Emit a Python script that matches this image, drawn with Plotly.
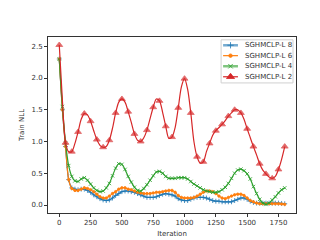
import plotly.graph_objects as go

iterations = list(range(0, 1801, 25))

nll_l8 = [2.30, 1.50, 0.92, 0.40, 0.27, 0.25, 0.24, 0.25, 0.25, 0.23, 0.20, 0.16, 0.13,
          0.10, 0.08, 0.07, 0.08, 0.11, 0.15, 0.18, 0.21, 0.22, 0.22, 0.21, 0.20, 0.18,
          0.16, 0.14, 0.12, 0.12, 0.12, 0.13, 0.15, 0.17, 0.18, 0.17, 0.16, 0.14, 0.10,
          0.08, 0.07, 0.07, 0.09, 0.11, 0.12, 0.12, 0.12, 0.11, 0.09, 0.07, 0.06, 0.06,
          0.05, 0.05, 0.05, 0.05, 0.07, 0.09, 0.11, 0.11, 0.09, 0.06, 0.04, 0.03, 0.03,
          0.03, 0.03, 0.03, 0.03, 0.03, 0.03, 0.025, 0.02]
nll_l6 = [2.30, 1.50, 0.92, 0.40, 0.26, 0.23, 0.23, 0.25, 0.27, 0.26, 0.24, 0.21, 0.17,
          0.13, 0.11, 0.11, 0.14, 0.18, 0.21, 0.25, 0.27, 0.27, 0.25, 0.24, 0.22, 0.20,
          0.19, 0.18, 0.18, 0.18, 0.19, 0.20, 0.20, 0.21, 0.22, 0.23, 0.23, 0.20, 0.15,
          0.12, 0.11, 0.11, 0.11, 0.12, 0.14, 0.17, 0.20, 0.22, 0.22, 0.21, 0.18, 0.14,
          0.11, 0.10, 0.12, 0.14, 0.16, 0.17, 0.17, 0.15, 0.11, 0.07, 0.05, 0.03, 0.02,
          0.02, 0.02, 0.02, 0.02, 0.02, 0.02, 0.015, 0.01]
nll_l4 = [2.30, 1.55, 0.98, 0.62, 0.45, 0.38, 0.37, 0.41, 0.43, 0.39, 0.33, 0.27, 0.23,
          0.21, 0.22, 0.27, 0.34, 0.46, 0.58, 0.65, 0.64, 0.56, 0.45, 0.36, 0.28, 0.23,
          0.22, 0.26, 0.32, 0.39, 0.46, 0.52, 0.53, 0.50, 0.45, 0.42, 0.42, 0.42, 0.43,
          0.43, 0.43, 0.41, 0.37, 0.33, 0.30, 0.27, 0.24, 0.22, 0.21, 0.20, 0.20, 0.21,
          0.24, 0.28, 0.34, 0.42, 0.50, 0.55, 0.565, 0.54, 0.49, 0.41, 0.29, 0.18, 0.09,
          0.03, 0.01, 0.03, 0.08, 0.13, 0.19, 0.24, 0.27]
nll_l2 = [2.52, 1.65, 0.98, 0.84, 0.84, 0.97, 1.15, 1.35, 1.44, 1.42, 1.32, 1.17, 1.03,
          0.94, 0.91, 0.92, 1.02, 1.21, 1.45, 1.62, 1.67, 1.62, 1.47, 1.30, 1.12, 1.02,
          1.00, 1.06, 1.18, 1.36, 1.54, 1.67, 1.64, 1.46, 1.24, 1.05, 1.07, 1.22, 1.53,
          1.86, 1.99, 1.82, 1.45, 1.00, 0.76, 0.66, 0.68, 0.84, 0.97, 1.10, 1.17, 1.22,
          1.27, 1.33, 1.40, 1.45, 1.50, 1.50, 1.45, 1.35, 1.20, 1.06, 0.92, 0.79, 0.65,
          0.55, 0.49, 0.44, 0.42, 0.45, 0.56, 0.72, 0.92]

labels = ["SGHMCLP-L 8", "SGHMCLP-L 6", "SGHMCLP-L 4", "SGHMCLP-L 2"]
colors = ["#1f77b4", "#ff7f0e", "#2ca02c", "#d62728"]
symbols = ["cross-thin-open", "circle", "x-thin-open", "triangle-up"]
msizes = [3.5, 2.5, 3.5, 6]
values = [nll_l8, nll_l6, nll_l4, nll_l2]

fig = go.Figure()

# manual legend frame (below traces)
leg_x0, leg_x1, leg_y0, leg_y1 = 0.698, 0.988, 0.739, 0.984
row_y = [0.953, 0.894, 0.834, 0.774]
key_x0, key_x1, text_x = 0.706, 0.766, 0.787
fig.add_shape(type="rect", xref="paper", yref="paper", x0=leg_x0, x1=leg_x1, y0=leg_y0, y1=leg_y1,
              line=dict(color="#d0d0d0", width=1), fillcolor="rgba(255,255,255,0.8)", layer="below")

for i, (name, vals, color, sym, size) in enumerate(zip(labels, values, colors, symbols, msizes)):
    if name.endswith("2"):
        sizes = [size if k % 2 == 0 else 0 for k in range(len(vals))]
    else:
        sizes = size
    fig.add_trace(go.Scatter(
        x=iterations, y=vals, name=name, mode="lines+markers", showlegend=False,
        line=dict(color=color, width=1.2, shape="spline", smoothing=0.8),
        marker=dict(symbol=sym, size=sizes, color=color, line=dict(color=color, width=0.8)),
    ))

for i, (name, color, sym, size) in enumerate(zip(labels, colors, symbols, msizes)):
    wide = i in (0, 2)
    fig.add_trace(go.Scatter(
        x=[key_x0, key_x1], y=[row_y[i], row_y[i]], xaxis="x2", yaxis="y2", mode="lines",
        showlegend=False, hoverinfo="skip", opacity=0.6 if wide else 1.0,
        line=dict(color=color, width=2.5 if wide else 1.2),
    ))
    fig.add_trace(go.Scatter(
        x=[(key_x0 + key_x1) / 2], y=[row_y[i]], xaxis="x2", yaxis="y2", mode="markers",
        showlegend=False, hoverinfo="skip",
        marker=dict(symbol=sym, size=size + 1, color=color, line=dict(color=color, width=0.8)),
    ))
    fig.add_annotation(xref="paper", yref="paper", x=text_x, y=row_y[i], text=name,
                       showarrow=False, xanchor="left", yanchor="middle",
                       font=dict(family="DejaVu Sans", size=7, color="#333"))

axis_common = dict(
    showgrid=False, zeroline=False, showline=True, linecolor="#333", linewidth=1,
    mirror=True, ticks="outside", ticklen=3, tickcolor="#333",
    tickfont=dict(family="DejaVu Sans", size=7, color="#333"),
)

fig.update_layout(
    width=320, height=240,
    margin=dict(l=40, r=32, t=29, b=27),
    paper_bgcolor="white", plot_bgcolor="white",
    xaxis=dict(range=[-90, 1890], tickvals=[0, 250, 500, 750, 1000, 1250, 1500, 1750],
               title=dict(text="Iteration", font=dict(family="DejaVu Sans", size=7, color="#333"),
                          standoff=4), **axis_common),
    yaxis=dict(range=[-0.126, 2.646], tickvals=[0, 0.5, 1.0, 1.5, 2.0, 2.5],
               ticktext=["0.0", "0.5", "1.0", "1.5", "2.0", "2.5"],
               title=dict(text="Train NLL", font=dict(family="DejaVu Sans", size=7, color="#333"),
                          standoff=6), **axis_common),
    xaxis2=dict(overlaying="x", range=[0, 1], visible=False, fixedrange=True),
    yaxis2=dict(overlaying="y", range=[0, 1], visible=False, fixedrange=True),
    showlegend=False,
)

fig.write_html("out.html")
